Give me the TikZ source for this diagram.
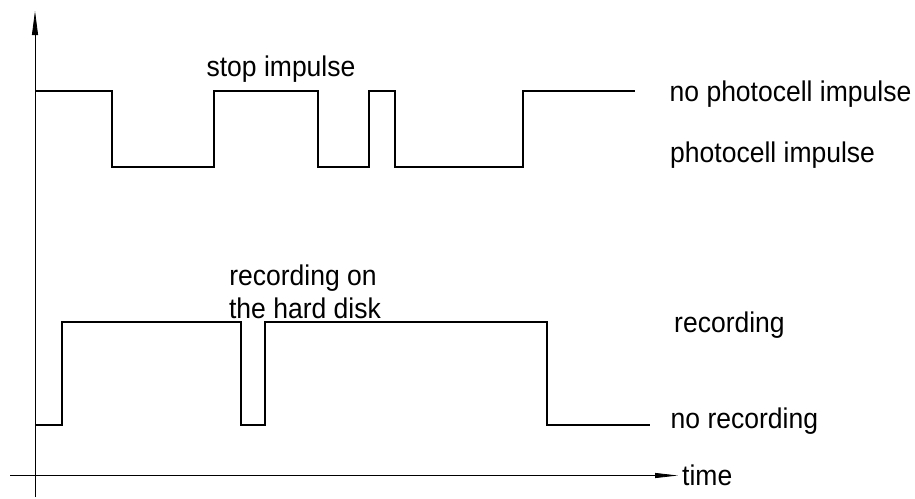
\documentclass[tikz,border=0pt]{standalone}
\usepackage{fontspec}
\setmainfont{Liberation Sans}[FakeStretch=0.93]
\usetikzlibrary{arrows.meta}
\begin{document}
\begin{tikzpicture}[x=1pt,y=-1pt,
  wave/.style={line width=1.5pt, line join=miter},
  axisline/.style={line width=0.8pt},
  lbl/.style={font=\fontsize{28.5}{34}\selectfont, inner sep=0pt, anchor=base west}]
\useasboundingbox (0,0) rectangle (915,498);
% axes
\coordinate (yb) at (35,497);
\coordinate (yt) at (35,11);
\coordinate (xl) at (10,475.5);
\coordinate (xr) at (678,475.5);
\draw[axisline, -{Triangle[length=24pt,width=6pt]}] (yb) -- (yt);
\draw[axisline, -{Triangle[length=23pt,width=5pt]}] (xl) -- (xr);
% photocell signal
\draw[wave] (35,91) -| (112,167) -| (214,91) -| (318,167) -| (369,91) -| (395,167) -| (523,91) -- (635,91);
% recording signal
\draw[wave] (35,425) -| (62,322) -| (241,425) -| (265,322) -| (547,425) -- (650,425);
% labels
\node[lbl] (nopc) at (669.5,101.7) {no photocell impulse};
\node[lbl] (pc) at (670,162.3) {photocell impulse};
\node[lbl] (rec) at (674,332.3) {recording};
\node[lbl] (norec) at (670.5,428.3) {no recording};
\node[lbl] (time) at (682,485) {time};
\node[lbl, anchor=base] (stop) at (281,76) {stop impulse};
\node[lbl, anchor=base] (hd1) at (303,285.7) {recording on};
\node[lbl, anchor=base] (hd2) at (305,318.3) {the hard disk};
\end{tikzpicture}
\end{document}
